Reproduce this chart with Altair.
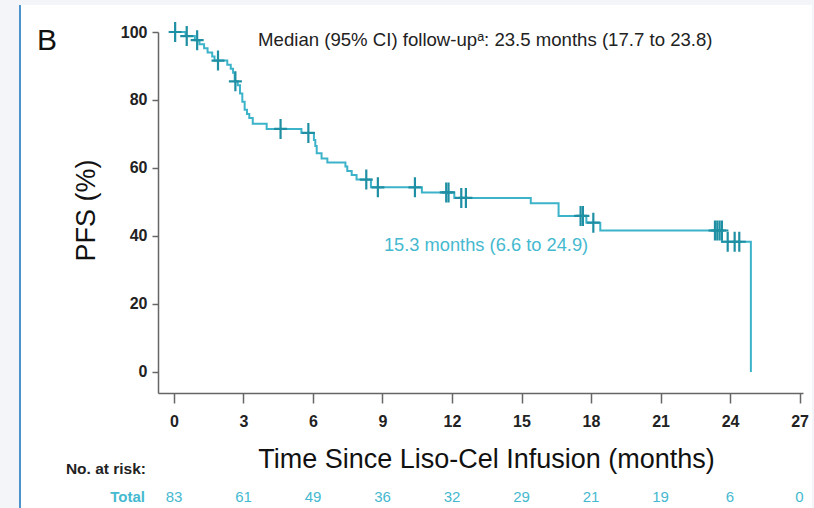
import altair as alt
import pandas as pd

# Kaplan-Meier step curve (months, PFS %)
step_t = [0, 0.5, 0.9, 1.1, 1.3, 1.45, 1.65, 1.75, 2.3, 2.45, 2.55, 2.62, 2.75, 2.85,
          2.95, 3.05, 3.15, 3.25, 3.4, 4.0, 5.5, 6.04, 6.1, 6.16, 6.37, 6.62, 7.4, 7.48,
          7.67, 7.88, 8.5, 10.7, 12.1, 15.4, 16.6, 17.8, 18.4, 23.65, 24.9]
step_s = [100, 98.8, 97.6, 96.4, 95.2, 94.0, 92.8, 91.6, 90.4, 89.2, 88.0, 85.5, 84.3, 81.9,
          79.5, 77.1, 75.9, 74.7, 73.0, 71.5, 70.3, 68.2, 66.5, 64.3, 62.8, 61.6, 60.4, 59.1,
          57.9, 56.6, 54.3, 52.8, 51.2, 49.6, 45.9, 43.9, 41.6, 38.3, 0]

# censoring marks
cens_t = [0.05, 0.55, 1.0, 1.9, 2.65, 4.6, 5.8, 8.3, 8.8, 10.4, 11.75, 11.85, 12.4, 12.6,
          17.55, 17.65, 18.1, 23.35, 23.45, 23.55, 23.65, 23.9, 24.2, 24.4]
cens_s = [100, 98.8, 97.6, 91.6, 85.5, 71.5, 70.3, 56.6, 54.3, 54.3, 52.8, 52.8, 51.2, 51.2,
          45.9, 45.9, 43.9, 41.6, 41.6, 41.6, 41.6, 38.3, 38.3, 38.3]

# number at risk
risk_t = [0, 3, 6, 9, 12, 15, 18, 21, 24, 27]
risk_n = [83, 61, 49, 36, 32, 29, 21, 19, 6, 0]

x_ticks = [0, 3, 6, 9, 12, 15, 18, 21, 24, 27]
y_ticks = [0, 20, 40, 60, 80, 100]

LINE = "#3cb3c9"
CROSS = "#1f8fa4"
TEAL_TXT = "#45b9cf"
FONT = "Liberation Sans"
FRAME = "#f3f5f8"

W, H = 645, 361
L, T = 158, 32

xs = alt.Scale(domain=[-0.69, 27.15], nice=False, zero=False)
ys = alt.Scale(domain=[-6.2, 100], nice=False, zero=False)

x_enc = alt.X("t:Q", scale=xs, axis=alt.Axis(
    values=x_ticks, title="Time Since Liso-Cel Infusion (months)",
    tickSize=10, labelPadding=10, labelFontSize=16, labelFontWeight="bold",
    labelColor="#222", labelFont=FONT, labelFlush=False,
    titleFont=FONT, titleFontSize=27, titleFontWeight="normal", titleColor="#111",
    titleBaseline="alphabetic", titleX=328, titleY=74, titleAlign="center",
    grid=False, domainColor="#666", domainWidth=1.5, tickColor="#666", tickWidth=1.5,
))
y_enc = alt.Y("s:Q", scale=ys, axis=alt.Axis(
    values=y_ticks, title="PFS (%)",
    tickSize=6, labelPadding=5, labelFontSize=16, labelFontWeight="bold",
    labelColor="#222", labelFont=FONT, labelFlush=False,
    titleFont=FONT, titleFontSize=27, titleFontWeight="normal", titleColor="#111",
    titleAngle=270, titleBaseline="alphabetic", titleX=-64, titleY=178, titleAlign="center",
    grid=False, domainColor="#666", domainWidth=1.5, tickColor="#666", tickWidth=1.5,
))

curve_df = pd.DataFrame({"t": step_t, "s": step_s})
cens_df = pd.DataFrame({"t": cens_t, "s": cens_s})
risk_df = pd.DataFrame({"t": risk_t, "n": [str(v) for v in risk_n]})

one = pd.DataFrame({"k": [0]})

curve = alt.Chart(curve_df).mark_line(
    interpolate="step-after", color=LINE, strokeWidth=2, clip=False
).encode(x=x_enc, y=y_enc)

cens = alt.Chart(cens_df).mark_point(
    shape="M-0.65,0L0.65,0M0,-1L0,1", filled=False, color=CROSS,
    strokeWidth=2.2, size=400, opacity=1, clip=False
).encode(x=x_enc, y=y_enc)

ann_df = pd.DataFrame({
    "t": [3.63, 9.06],
    "s": [97.6, 37.1],
    "label": ["Median (95% CI) follow-up\u1d43: 23.5 months (17.7 to 23.8)",
              "15.3 months (6.6 to 24.9)"],
    "c": ["#222222", TEAL_TXT],
    "fs": [18.6, 18.3],
})
ann = alt.Chart(ann_df).mark_text(
    align="left", baseline="middle", font=FONT
).encode(x=x_enc, y=y_enc, text="label:N", color=alt.Color("c:N", scale=None),
         size=alt.Size("fs:Q", scale=None, legend=None))

risk = alt.Chart(risk_df).mark_text(
    baseline="middle", align="center", font=FONT, fontSize=15, color=TEAL_TXT
).encode(x=x_enc, y=alt.value(497 - T), text="n:N")

total_lbl = alt.Chart(one).mark_text(
    text="Total", align="right", baseline="middle", font=FONT, fontSize=15,
    fontWeight="bold", color=TEAL_TXT
).encode(x=alt.value(145 - L), y=alt.value(497 - T))

risk_hdr = alt.Chart(one).mark_text(
    text="No. at risk:", align="right", baseline="middle", font=FONT, fontSize=15.5,
    fontWeight="bold", color="#222"
).encode(x=alt.value(146 - L), y=alt.value(469 - T))

panel_lbl = alt.Chart(one).mark_text(
    text="B", align="left", baseline="middle", font=FONT, fontSize=30, color="#111"
).encode(x=alt.value(37 - L), y=alt.value(41 - T))

# page frame decoration (outside the plot area)
band_left = alt.Chart(one).mark_rect(color=FRAME).encode(
    x=alt.value(-L), x2=alt.value(19 - L), y=alt.value(-T), y2=alt.value(508 - T)
)
band_top = alt.Chart(one).mark_rect(color=FRAME).encode(
    x=alt.value(-L), x2=alt.value(814 - L), y=alt.value(-T), y2=alt.value(5 - T)
)
band_right = alt.Chart(one).mark_rect(color=FRAME).encode(
    x=alt.value(812 - L), x2=alt.value(814 - L), y=alt.value(-T), y2=alt.value(508 - T)
)
frame_line = alt.Chart(one).mark_rule(color="#4d94cc", strokeWidth=2).encode(
    x=alt.value(20 - L), y=alt.value(5 - T), y2=alt.value(508 - T)
)

chart = alt.layer(
    curve, cens, ann, risk, total_lbl, risk_hdr, panel_lbl,
    band_left, band_top, band_right, frame_line
).properties(
    width=W, height=H,
    autosize=alt.AutoSizeParams(type="none"),
    padding={"left": L, "top": T, "right": 814 - L - W, "bottom": 508 - T - H},
    background="white",
).configure_view(strokeWidth=0)

chart.save("out.html", embed_options={"renderer": "svg", "actions": False})
